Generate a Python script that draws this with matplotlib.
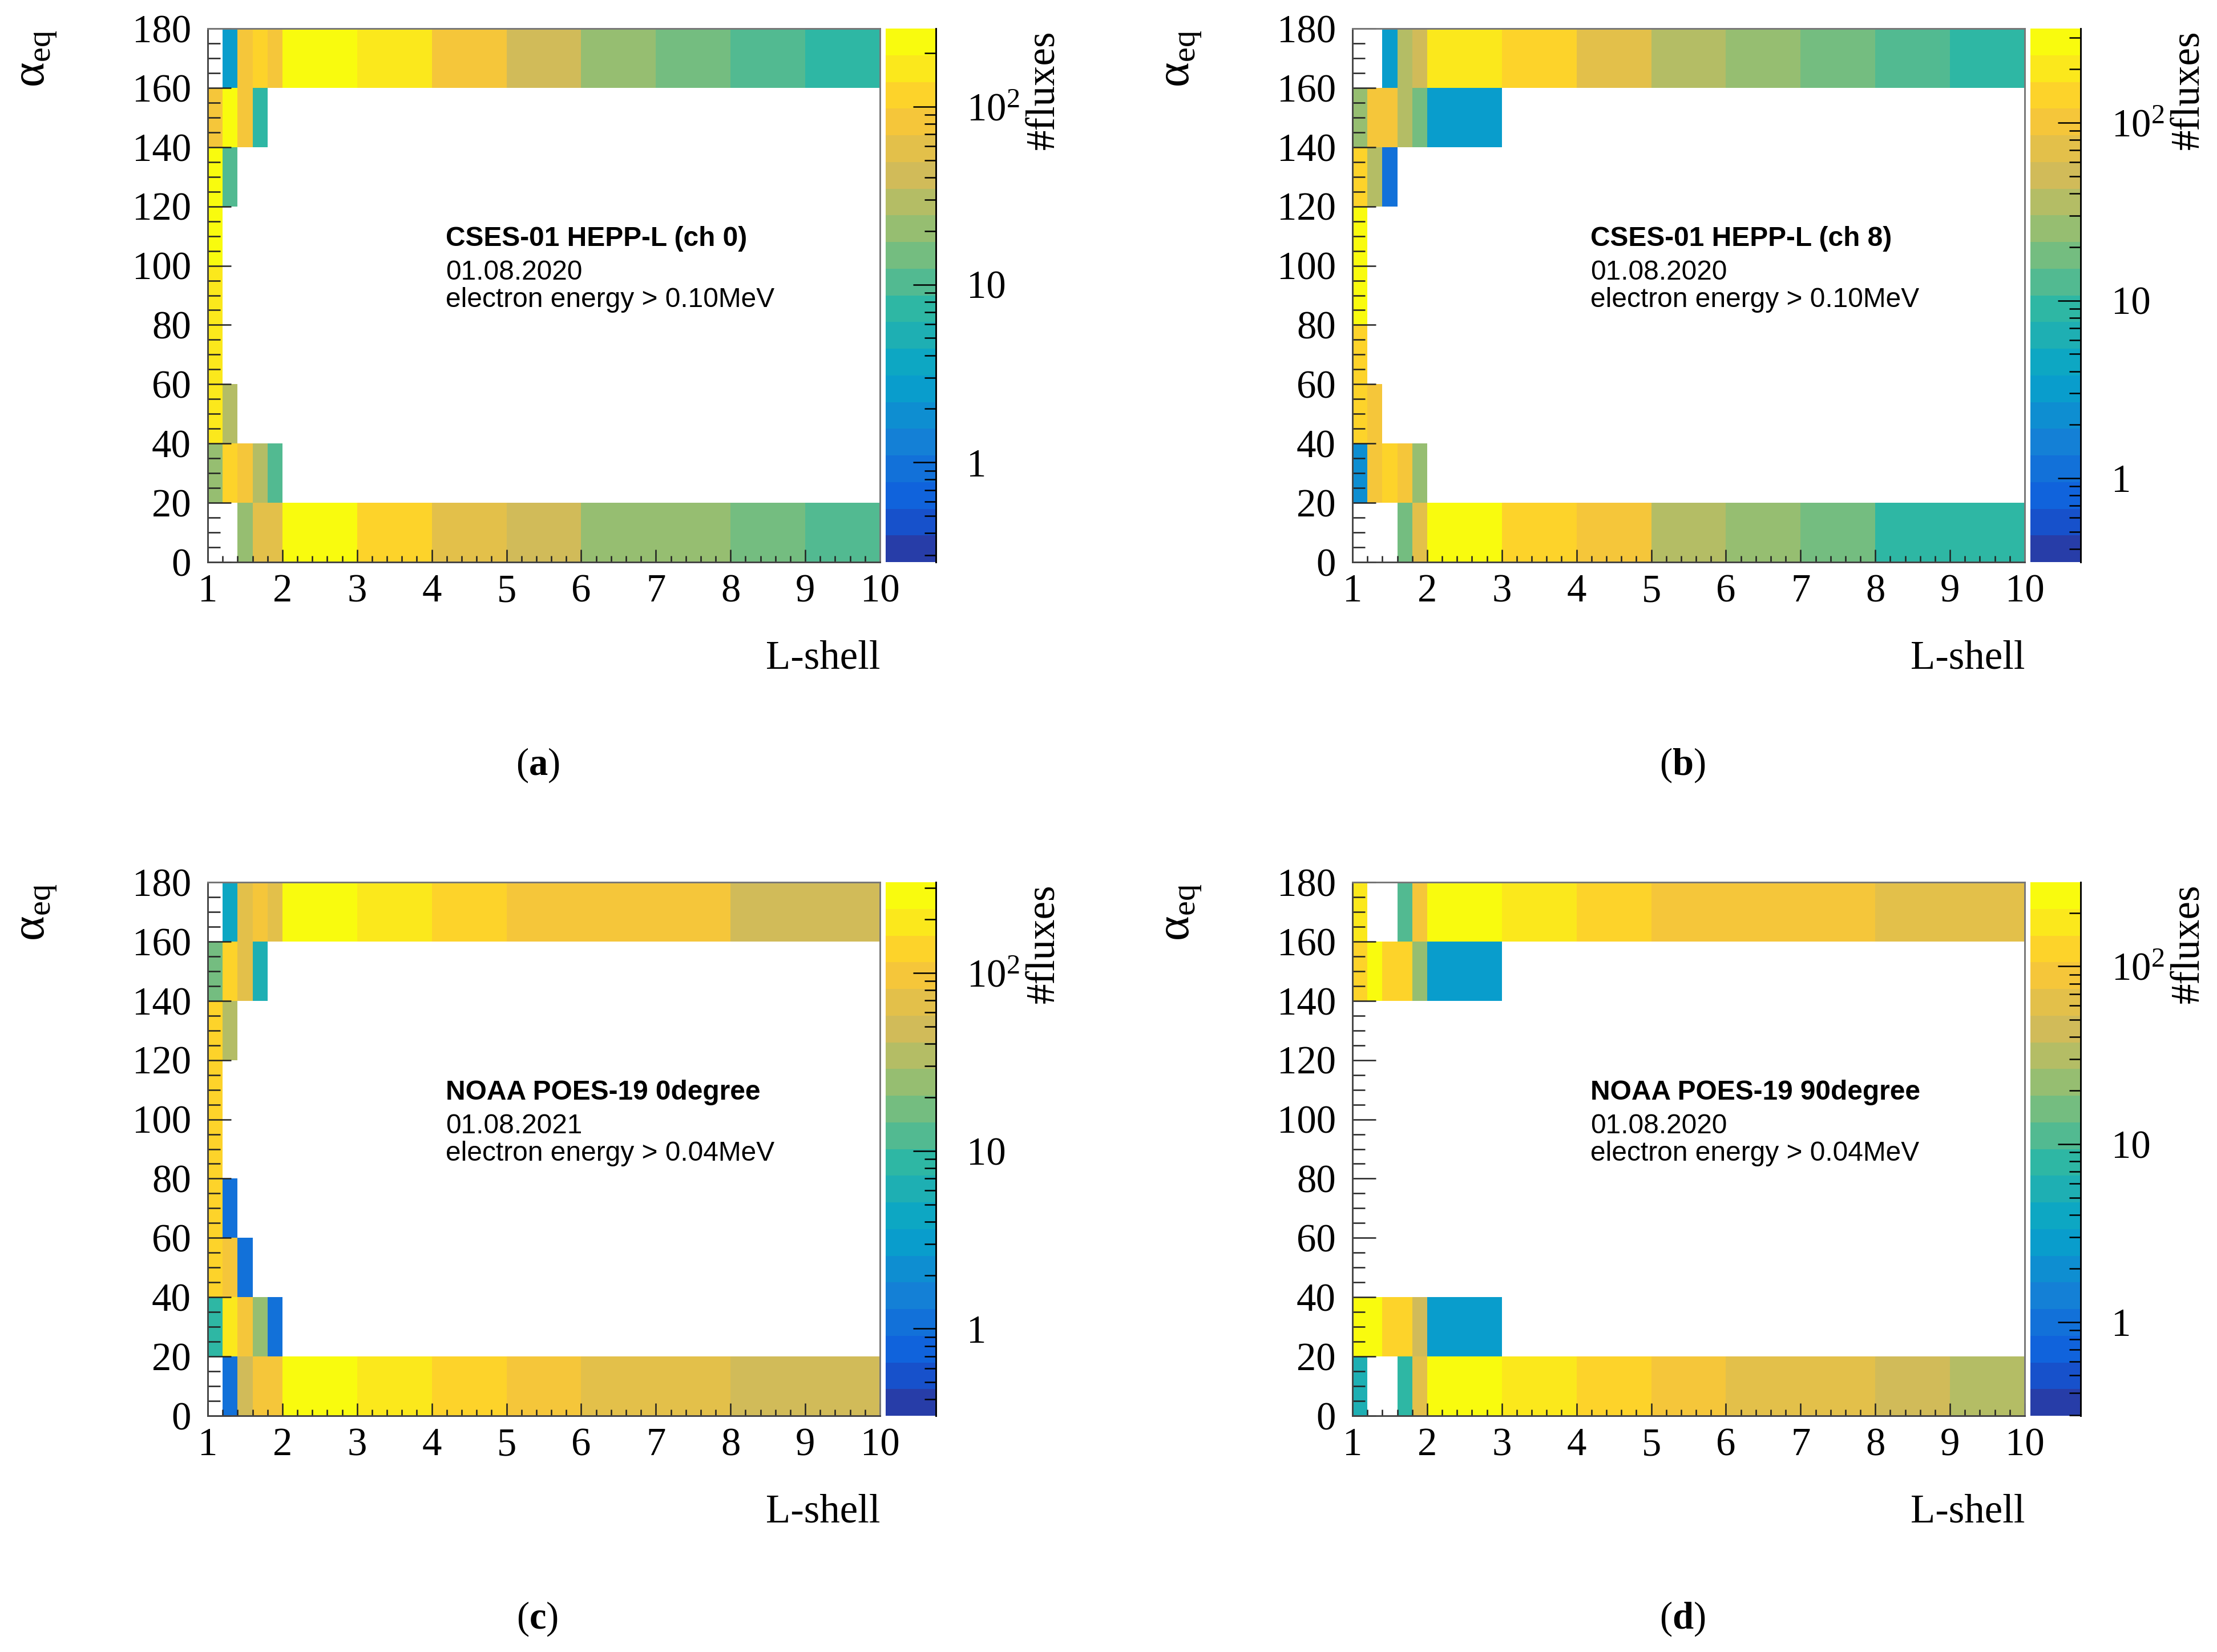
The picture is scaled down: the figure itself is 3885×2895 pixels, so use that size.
import numpy as np
import matplotlib
matplotlib.use('Agg')
import matplotlib.pyplot as plt
from matplotlib.colors import LinearSegmentedColormap, ListedColormap, LogNorm
from matplotlib.ticker import MultipleLocator, LogLocator, NullFormatter

plt.rcParams['font.family'] = ['Liberation Serif', 'DejaVu Serif']
plt.rcParams['mathtext.fontset'] = 'custom'
plt.rcParams['mathtext.rm'] = 'Liberation Serif'
plt.rcParams['mathtext.it'] = 'Liberation Serif:italic'
plt.rcParams['mathtext.bf'] = 'Liberation Serif:bold'

N = np.nan

# bin edges
L_edges = [1, 1.2, 1.4, 1.6, 1.8, 2, 3, 4, 5, 6, 7, 8, 9, 10]
alpha_edges = [0, 20, 40, 60, 80, 100, 120, 140, 160, 180]

# number of fluxes per bin, rows = alpha bins from 0-20 up to 160-180
flux_a = [
    [N, N, 20.6, 58, 58, 270, 116, 58, 41, 20.6, 20.6, 14.6, 10.3],
    [20.6, 116, 82, 29, 10.3, N, N, N, N, N, N, N, N],
    [164, 29, N, N, N, N, N, N, N, N, N, N, N],
    [164, N, N, N, N, N, N, N, N, N, N, N, N],
    [164, N, N, N, N, N, N, N, N, N, N, N, N],
    [231, N, N, N, N, N, N, N, N, N, N, N, N],
    [231, 10.3, N, N, N, N, N, N, N, N, N, N, N],
    [82, 231, 82, 7.3, N, N, N, N, N, N, N, N, N],
    [N, 2.6, 82, 116, 82, 275, 164, 82, 41, 20.6, 14.6, 10.3, 7.3],
]
flux_b = [
    [N, N, N, 18, 71, 284, 143, 101, 36, 25, 18, 9.0, 9.0],
    [2.3, 101, 143, 101, 25, N, N, N, N, N, N, N, N],
    [143, 101, N, N, N, N, N, N, N, N, N, N, N],
    [143, N, N, N, N, N, N, N, N, N, N, N, N],
    [338, N, N, N, N, N, N, N, N, N, N, N, N],
    [284, N, N, N, N, N, N, N, N, N, N, N, N],
    [143, 36, 1.13, N, N, N, N, N, N, N, N, N, N],
    [25, 101, 101, 36, 18, 3.2, N, N, N, N, N, N, N],
    [N, N, 3.2, 36, 51, 201, 143, 71, 36, 25, 18, 12.7, 9.0],
]
flux_c = [
    [N, 1.09, 49, 97, 97, 324, 193, 137, 97, 69, 69, 49, 49],
    [8.6, 193, 97, 24, 1.09, N, N, N, N, N, N, N, N],
    [137, 97, 1.09, N, N, N, N, N, N, N, N, N, N],
    [137, 1.09, N, N, N, N, N, N, N, N, N, N, N],
    [137, N, N, N, N, N, N, N, N, N, N, N, N],
    [137, N, N, N, N, N, N, N, N, N, N, N, N],
    [137, 34, N, N, N, N, N, N, N, N, N, N, N],
    [17, 137, 69, 6.1, N, N, N, N, N, N, N, N, N],
    [N, 4.3, 69, 97, 69, 273, 193, 137, 97, 97, 97, 49, 49],
]
flux_d = [
    [5.6, N, N, 7.9, 63, 297, 177, 125, 89, 63, 63, 44, 31],
    [250, 250, 125, 125, 44, 2.8, N, N, N, N, N, N, N],
    [N, N, N, N, N, N, N, N, N, N, N, N, N],
    [N, N, N, N, N, N, N, N, N, N, N, N, N],
    [N, N, N, N, N, N, N, N, N, N, N, N, N],
    [N, N, N, N, N, N, N, N, N, N, N, N, N],
    [N, N, N, N, N, N, N, N, N, N, N, N, N],
    [125, 250, 125, 125, 22, 2.8, N, N, N, N, N, N, N],
    [177, N, N, 11.2, 89, 250, 177, 125, 89, 89, 89, 63, 63],
]

texts_a = ['CSES-01 HEPP-L (ch 0)', '01.08.2020', 'electron energy > 0.10MeV']
texts_b = ['CSES-01 HEPP-L (ch 8)', '01.08.2020', 'electron energy > 0.10MeV']
texts_c = ['NOAA POES-19 0degree', '01.08.2021', 'electron energy > 0.04MeV']
texts_d = ['NOAA POES-19 90degree', '01.08.2020', 'electron energy > 0.04MeV']

# ROOT kBird palette, 20 contour levels
stops = [0.0, 0.125, 0.25, 0.375, 0.5, 0.625, 0.75, 0.875, 1.0]
red = [0.2082, 0.0592, 0.0780, 0.0232, 0.1802, 0.5301, 0.8186, 0.9956, 0.9764]
green = [0.1664, 0.3599, 0.5041, 0.6419, 0.7178, 0.7492, 0.7328, 0.7862, 0.9832]
blue = [0.5293, 0.8684, 0.8385, 0.7914, 0.6425, 0.4662, 0.3499, 0.1968, 0.0539]
bird = LinearSegmentedColormap.from_list('bird', list(zip(stops, zip(red, green, blue))), N=255)
ncont = 20
level_cols = [bird(int((k + 0.99) * 255 / ncont) / 254.0) for k in range(ncont)]
cmap = ListedColormap(level_cols)

W, H = 3885, 2895
fig = plt.figure(figsize=(W / 300, H / 300), dpi=300)

pw, ph = 1178, 935
panels = [
    (flux_a, texts_a, 'a', 364, 50),
    (flux_b, texts_b, 'b', 2370, 50),
    (flux_c, texts_c, 'c', 364, 1546),
    (flux_d, texts_d, 'd', 2370, 1546),
]

for flux, texts, lab, x0, y0 in panels:
    data = np.ma.masked_invalid(np.array(flux))
    vmax = data.max()
    norm = LogNorm(vmin=vmax / 1000.0, vmax=vmax)

    ax = fig.add_axes([x0 / W, 1 - (y0 + ph) / H, pw / W, ph / H])
    mesh = ax.pcolormesh(L_edges, alpha_edges, data, cmap=cmap, norm=norm,
                         edgecolors='none', antialiased=False)
    ax.set_xlim(1, 10)
    ax.set_ylim(0, 180)
    ax.xaxis.set_major_locator(MultipleLocator(1))
    ax.xaxis.set_minor_locator(MultipleLocator(0.2))
    ax.yaxis.set_major_locator(MultipleLocator(20))
    ax.yaxis.set_minor_locator(MultipleLocator(5))
    ax.tick_params(axis='both', which='both', direction='in', top=False, right=False,
                   color='#222222', width=0.6, labelsize=16.5)
    ax.tick_params(axis='x', which='major', length=5.3, pad=5)
    ax.tick_params(axis='x', which='minor', length=2.6)
    ax.tick_params(axis='y', which='major', length=9.8, pad=7)
    ax.tick_params(axis='y', which='minor', length=5.3)
    for s in ax.spines.values():
        s.set_color('#777777')
        s.set_linewidth(0.7)
    ax.spines['left'].set_color('#444444')
    ax.spines['bottom'].set_color('#444444')

    # text box inside the frame
    ax.text(0.354, 0.593, texts[0], transform=ax.transAxes, family='Liberation Sans',
            weight='bold', fontsize=11.5, ha='left', va='baseline')
    ax.text(0.354, 0.529, texts[1], transform=ax.transAxes, family='Liberation Sans',
            fontsize=11.5, ha='left', va='baseline')
    ax.text(0.354, 0.478, texts[2], transform=ax.transAxes, family='Liberation Sans',
            fontsize=11.5, ha='left', va='baseline')

    # colour bar
    cax = fig.add_axes([(x0 + 1188) / W, 1 - (y0 + ph) / H, 88 / W, ph / H])
    cb = fig.colorbar(mesh, cax=cax)
    cb.outline.set_visible(False)
    cax.spines['right'].set_visible(True)
    cax.spines['right'].set_color('black')
    cax.spines['right'].set_linewidth(0.7)
    cb.set_ticks([1, 10, 100], labels=['1', '10', r'$10^{2}$'])
    cax.yaxis.set_minor_locator(LogLocator(subs=np.arange(2, 10)))
    cax.yaxis.set_minor_formatter(NullFormatter())
    cax.tick_params(which='both', direction='in', right=True, left=False,
                    color='black', width=0.6, labelsize=16.5)
    cax.tick_params(which='major', length=9.6, pad=13)
    cax.tick_params(which='minor', length=4.8)

    fig.text((x0 + 1466) / W, 1 - (y0 + 3) / H, '#fluxes', rotation=90,
             ha='center', va='top', fontsize=17)
    fig.text((x0 - 300) / W, 1 - (y0 + 3) / H, r'α$_{\mathrm{eq}}$', rotation=90,
             ha='center', va='top', fontsize=20)
    fig.text((x0 + pw) / W, 1 - (y0 + ph + 169) / H, 'L-shell',
             ha='right', va='center', fontsize=17)
    fig.text((x0 + 578) / W, 1 - (y0 + 1291) / H, r'$(\mathbf{' + lab + r'})$',
             ha='center', va='center', fontsize=16)

fig.savefig('out.png', dpi=300)
